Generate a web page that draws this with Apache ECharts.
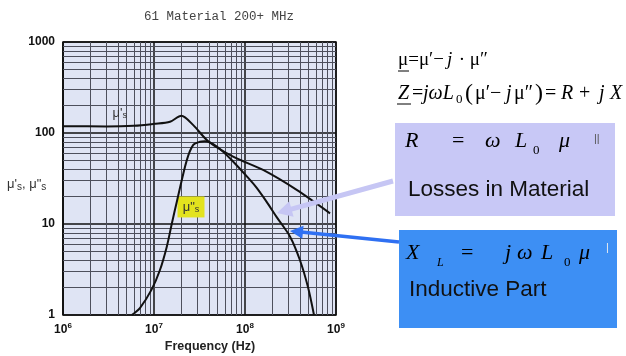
<!DOCTYPE html>
<html>
<head>
<meta charset="utf-8">
<script src="https://cdn.jsdelivr.net/npm/echarts@6/dist/echarts.min.js"></script>
<style>html,body{margin:0;padding:0;background:#fff}#c{width:626px;height:356px}</style>
</head>
<body>
<div id="c"></div>
<script>
// ---- data ----
const freqPrime = [1e6, 3e6, 6e6, 1e7, 1.5e7, 2e7, 2.7e7, 4e7, 7.4e7, 1.6e8, 3.7e8, 8.6e8];
const muPrime   = [119, 118, 120, 126, 133, 155, 122, 80, 55, 39, 23.7, 13.1];
const freqDouble = [5.7e6, 7e6, 9.4e6, 1.16e7, 1.38e7, 1.56e7, 1.8e7, 2.29e7, 2.7e7, 3.2e7, 3.6e7, 4.9e7,
                    7.43e7, 1.135e8, 1.345e8, 1.73e8, 2.23e8, 3.13e8, 4.02e8, 4.92e8, 5.73e8];
const muDouble   = [1.0, 1.19, 1.9, 3.1, 5.6, 9.8, 18.4, 50, 74, 80, 81, 71,
                    48.4, 30.5, 24.9, 17.5, 11.9, 7.26, 4.0, 2.03, 1.0];
const xDecades = [1e6, 1e7, 1e8, 1e9];
const yDecades = [1, 10, 100, 1000];
const minorMult = [2, 3, 4, 5, 6, 7, 8, 9];
const titleText = '61 Material 200+ MHz';
const xTitle = 'Frequency (Hz)';

const pairs = (xs, ys) => xs.map((x, i) => [x, ys[i]]);
const minorLines = [];
xDecades.slice(0, -1).forEach(d => minorMult.forEach(m => minorLines.push({xAxis: d * m})));
yDecades.slice(0, -1).forEach(d => minorMult.forEach(m => minorLines.push({yAxis: d * m})));

function arrow(x1, y1, x2, y2, w, hl, hw, color) {
  const dx = x2 - x1, dy = y2 - y1, L = Math.hypot(dx, dy);
  const ux = dx / L, uy = dy / L, px = -uy, py = ux;
  const bx = x2 - ux * hl, by = y2 - uy * hl;
  return [
    {type: 'line', shape: {x1: x1, y1: y1, x2: bx + ux * 2, y2: by + uy * 2}, style: {stroke: color, lineWidth: w}, z: 100},
    {type: 'polygon', shape: {points: [[x2, y2], [bx + px * hw, by + py * hw], [bx - px * hw, by - py * hw]]}, style: {fill: color}, z: 100}
  ];
}

const serif = '"Liberation Serif", "DejaVu Serif", serif';
const sans = '"Liberation Sans", Arial, sans-serif';
// place text by its baseline
function txt(x, base, text, font, extra) {
  const size = parseFloat(font.match(/([\d.]+)px/)[1]);
  return {type: 'text', x: x, y: base - 0.3 * size, z: 101,
    style: Object.assign({text: text, font: font, fill: '#000', textAlign: 'left', textVerticalAlign: 'middle', align: 'left', verticalAlign: 'middle'}, extra || {})};
}

const chart = echarts.init(document.getElementById('c'), null, {renderer: 'canvas'});
chart.setOption({
  animation: false,
  backgroundColor: '#ffffff',
  grid: {left: 63, right: 290, top: 42, bottom: 41, show: true, backgroundColor: '#dfe4f4', borderColor: '#111', borderWidth: 1.5},
  xAxis: {
    type: 'log', logBase: 10, min: 1e6, max: 1e9,
    axisLine: {show: false}, axisTick: {show: false},
    splitLine: {show: true, lineStyle: {color: '#111', width: 1.5}},
    axisLabel: {
      margin: 7,
      formatter: v => '{b|10}{s|' + Math.round(Math.log10(v)) + '}',
      rich: {
        b: {fontFamily: sans, fontWeight: 'bold', fontSize: 12, color: '#111'},
        s: {fontFamily: sans, fontWeight: 'bold', fontSize: 8, color: '#111', verticalAlign: 'top', padding: [0, 0, 7, 0]}
      }
    }
  },
  yAxis: {
    type: 'log', logBase: 10, min: 1, max: 1000,
    axisLine: {show: false}, axisTick: {show: false},
    splitLine: {show: true, lineStyle: {color: '#111', width: 1.5}},
    axisLabel: {margin: 8, fontFamily: sans, fontWeight: 'bold', fontSize: 12, color: '#111', formatter: v => String(v)}
  },
  series: [
    {
      name: "μ'", type: 'line', data: pairs(freqPrime, muPrime), smooth: 0.3, showSymbol: false,
      lineStyle: {color: '#111', width: 2}, z: 5,
      markLine: {silent: true, symbol: ['none', 'none'], label: {show: false}, animation: false,
        lineStyle: {type: 'solid', color: '#4d4f5c', width: 1}, emphasis: {disabled: true}, data: minorLines, z: 2},
      markPoint: {silent: true, symbol: 'rect', symbolSize: 1, itemStyle: {color: 'rgba(0,0,0,0)'},
        data: [{coord: [4.2e6, 166], label: {show: true, position: 'inside',
          formatter: "{m|μ'}{s|s}", rich: {m: {fontFamily: sans, fontSize: 13, color: '#333'}, s: {fontFamily: sans, fontSize: 9, color: '#333', verticalAlign: 'bottom', padding: [6, 0, 0, 0]}}}}]}
    },
    {
      name: 'μ"', type: 'line', data: pairs(freqDouble, muDouble), smooth: 0.3, showSymbol: false,
      lineStyle: {color: '#111', width: 2}, z: 5,
      markPoint: {silent: true, symbol: 'rect', symbolSize: [27, 21], itemStyle: {color: '#e3e31e'},
        data: [{coord: [2.55e7, 15.4], label: {show: true, position: 'inside',
          formatter: '{m|μ"}{s|s}', rich: {m: {fontFamily: sans, fontSize: 13, color: '#333'}, s: {fontFamily: sans, fontSize: 9, color: '#333', padding: [6, 0, 0, 0]}}}}]}
    }
  ],
  graphic: [
    {type: 'text', x: 219, y: 17, z: 101, style: {text: titleText, font: '12.5px "Liberation Mono", monospace', fill: '#444', textAlign: 'center', textVerticalAlign: 'middle', align: 'center', verticalAlign: 'middle'}},
    {type: 'text', x: 210, y: 347, z: 101, style: {text: xTitle, font: 'bold 12.5px ' + sans, fill: '#222', textAlign: 'center', textVerticalAlign: 'middle', align: 'center', verticalAlign: 'middle'}},
    {type: 'text', x: 7, y: 184, z: 101, style: {text: "{m|μ'}{s|s}{m|, μ\"}{s|s}", textVerticalAlign: 'middle', verticalAlign: 'middle',
      rich: {m: {fontFamily: sans, fontSize: 13, fill: '#333', color: '#333'}, s: {fontFamily: sans, fontSize: 10, fill: '#333', color: '#333', padding: [6, 0, 0, 0]}}}},
    // formulas
    txt(398, 66, 'μ=μ′−', '19px ' + serif),
    txt(447, 66, 'j', 'italic 19px ' + serif),
    txt(454, 66, ' · μ″', '19px ' + serif),
    {type: 'line', shape: {x1: 398, y1: 71, x2: 409, y2: 71}, style: {stroke: '#000', lineWidth: 1}, z: 101},
    txt(398, 100, 'Z', 'italic 20px ' + serif),
    txt(412, 100, '=', '20px ' + serif),
    txt(423, 100, 'jωL', 'italic 20px ' + serif),
    txt(456, 103, '0', '13px ' + serif),
    txt(465, 101, '(', '24px ' + serif),
    txt(475, 100, 'μ′−', '20px ' + serif),
    txt(506, 100, 'j', 'italic 20px ' + serif),
    txt(514, 100, 'μ″', '20px ' + serif),
    txt(535, 101, ')', '24px ' + serif),
    txt(545, 100, '=', '20px ' + serif),
    txt(561, 100, 'R', 'italic 20px ' + serif),
    txt(579, 100, '+', '20px ' + serif),
    txt(599, 100, 'j', 'italic 20px ' + serif),
    txt(610, 100, 'X', 'italic 20px ' + serif),
    {type: 'line', shape: {x1: 397, y1: 104, x2: 411, y2: 104}, style: {stroke: '#000', lineWidth: 1}, z: 101},
    // boxes
    {type: 'rect', shape: {x: 395, y: 123, width: 220, height: 93}, style: {fill: '#c8c8f6'}, z: 99},
    {type: 'rect', shape: {x: 399, y: 230, width: 218, height: 98}, style: {fill: '#3d8ff4'}, z: 99},
    txt(405, 148, 'R', 'italic 22px ' + serif),
    txt(452, 148, '=', '22px ' + serif),
    txt(485, 148, 'ω', 'italic 22px ' + serif),
    txt(515, 148, 'L', 'italic 22px ' + serif),
    txt(533, 154, '0', '13px ' + serif),
    txt(559, 148, 'μ', 'italic 22px ' + serif),
    txt(594, 142, '||', '11px ' + sans, {fill: '#555'}),
    txt(408, 197, 'Losses in Material', '22.5px ' + sans, {fill: '#111'}),
    txt(406, 260, 'X', 'italic 22px ' + serif),
    txt(437, 266, 'L', 'italic 12px ' + serif),
    txt(461, 260, '=', '22px ' + serif),
    txt(505, 260, 'j', 'italic 22px ' + serif),
    txt(517, 260, 'ω', 'italic 22px ' + serif),
    txt(541, 260, 'L', 'italic 22px ' + serif),
    txt(564, 266, '0', '13px ' + serif),
    txt(579, 260, 'μ', 'italic 22px ' + serif),
    txt(606, 251, '|', '11px ' + sans, {fill: '#eee'}),
    txt(409, 297, 'Inductive Part', '22.5px ' + sans, {fill: '#111'}),
  ].concat(arrow(393, 181, 277, 213, 5, 15, 8, '#c6c6f4'))
   .concat(arrow(399, 242, 290, 231, 3.5, 13, 6.5, '#2f70f2'))
});
</script>
</body>
</html>
